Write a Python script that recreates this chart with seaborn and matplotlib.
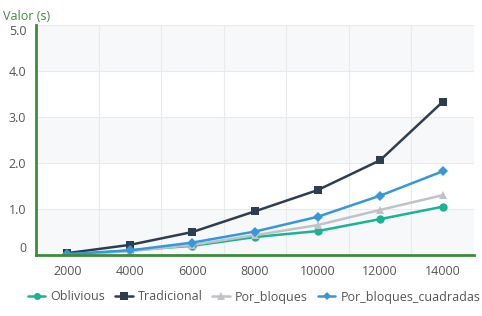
import matplotlib
matplotlib.use("Agg")
import matplotlib.pyplot as plt
import seaborn as sns
import numpy as np
import pandas as pd

categories = ["2000", "4000", "6000", "8000", "10000", "12000", "14000"]
oblivious = [0.00, 0.10, 0.20, 0.39, 0.52, 0.78, 1.05]
tradicional = [0.04, 0.22, 0.50, 0.95, 1.41, 2.06, 3.33]
por_bloques = [0.01, 0.08, 0.22, 0.43, 0.65, 0.98, 1.30]
por_bloques_cuadradas = [0.02, 0.10, 0.27, 0.51, 0.83, 1.29, 1.82]
y_ticks = [0, 1, 2, 3, 4, 5]
y_labels = ["0", "1.0", "2.0", "3.0", "4.0", "5.0"]

series = [
    ("Oblivious", oblivious, "#1bb394", "o", 6),
    ("Tradicional", tradicional, "#2c3e50", "s", 6),
    ("Por_bloques", por_bloques, "#bfc3c7", "^", 6),
    ("Por_bloques_cuadradas", por_bloques_cuadradas, "#3498db", "D", 5),
]

sns.set_style("white")
plt.rcParams['font.family'] = ['Open Sans', 'DejaVu Sans']

fig = plt.figure(figsize=(4.82, 3.16), dpi=100)
ax = fig.add_axes([36/482, 1-255/316, (474-36)/482, (255-25)/316])

pos = np.arange(len(categories))
for name, vals, col, mk, ms in series:
    df = pd.DataFrame({"x": pos, "y": vals})
    sns.lineplot(data=df, x="x", y="y", ax=ax, color=col, marker=mk,
                 markersize=ms, markeredgewidth=0, linewidth=1.8, label=name,
                 zorder=3)

ax.set_xlim(-0.5, len(categories) - 0.5)
ax.set_ylim(0, 5)

# alternating bands
for lo in [0, 2, 4]:
    ax.axhspan(lo, lo + 1, color="#f7f8fa", zorder=0, lw=0)
for yv in y_ticks[1:]:
    ax.axhline(yv, color="#eaeaea", lw=0.8, zorder=1)
for xv in np.arange(0.5, len(categories), 1.0):
    ax.axvline(xv, color="#eaeaea", lw=0.8, zorder=1)

ax.set_xticks(pos)
ax.set_xticklabels(categories)
ax.set_xticks(np.arange(-0.5, len(categories), 1.0), minor=True)
ax.tick_params(axis="x", which="major", length=0, pad=7, labelsize=9, labelcolor="#555555")
ax.tick_params(axis="x", which="minor", length=5, width=1.2, color="#222222", direction="out")
ax.set_yticks(y_ticks)
ax.set_yticklabels(y_labels)
ax.tick_params(axis="y", length=0, pad=7, labelsize=9, labelcolor="#555555")
yl = ax.get_yticklabels()
yl[0].set_va("bottom")
yl[-1].set_va("top")

for s in ["top", "right"]:
    ax.spines[s].set_visible(False)
for s in ["left", "bottom"]:
    ax.spines[s].set_color("#3d8b3d")
    ax.spines[s].set_linewidth(2)
    ax.spines[s].set_zorder(4)

ax.set_xlabel("")
ax.set_ylabel("")
ax.legend_.remove()

fig.text(3/482, 1-17/316, "Valor (s)", color="#3d8b3d", fontsize=9, va="center", ha="left")

handles, labels = ax.get_legend_handles_labels()
fig.legend(handles, labels, loc="center", bbox_to_anchor=(0.527, 1-297/316), ncol=4,
           frameon=False, fontsize=9, handlelength=1.4, handletextpad=0.4,
           columnspacing=0.8, labelcolor="#555555", borderaxespad=0, markerscale=0.85)

fig.savefig("out.png", dpi=100)
